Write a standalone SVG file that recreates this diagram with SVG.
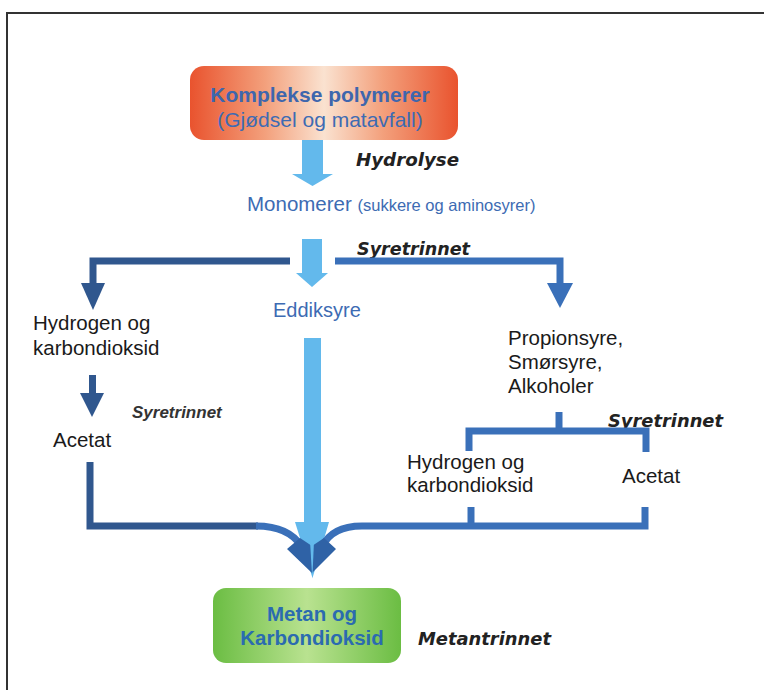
<svg xmlns="http://www.w3.org/2000/svg" width="764" height="690" viewBox="0 0 764 690">
<defs>
<linearGradient id="gOrange" x1="0" y1="0" x2="1" y2="0">
<stop offset="0" stop-color="#e9532e"/>
<stop offset="0.28" stop-color="#f3a07c"/>
<stop offset="0.5" stop-color="#fae2d0"/>
<stop offset="0.72" stop-color="#f3a07c"/>
<stop offset="1" stop-color="#e9532e"/>
</linearGradient>
<linearGradient id="gGreen" x1="0" y1="0" x2="1" y2="0">
<stop offset="0" stop-color="#6bbd43"/>
<stop offset="0.5" stop-color="#b9e290"/>
<stop offset="1" stop-color="#6bbd43"/>
</linearGradient>
<style>
.body{font-family:"Liberation Sans",Arial,sans-serif;font-size:20.5px;fill:#1a1a1a}
.blue{font-family:"Liberation Sans",Arial,sans-serif;fill:#3d6bb3}
.boxt{font-family:"Liberation Sans",Arial,sans-serif;font-weight:bold;fill:#3e66ad}
.green{fill:#2b6bb0}
.stage{font-family:"DejaVu Sans",Verdana,sans-serif;font-weight:bold;font-style:italic;font-size:17.5px;fill:#222}
.navy{fill:none;stroke:#30578e;stroke-width:7}
.mid{fill:none;stroke:#3a70b9;stroke-width:7}
.light{fill:#63b9ec}
</style>
</defs>
<rect width="764" height="690" fill="#ffffff"/>
<path d="M7,690 V13 H764" fill="none" stroke="#333" stroke-width="2"/>

<g id="node-polymerer">
<rect x="190" y="66" width="268" height="74" rx="14" fill="url(#gOrange)"/>
<text class="boxt" x="320" y="102" text-anchor="middle" font-size="21">Komplekse polymerer</text>
<text class="blue" x="320" y="127" text-anchor="middle" font-size="21">(Gjødsel og matavfall)</text>
</g>

<g id="node-monomerer">
<text class="blue" x="247" y="211" font-size="20.5">Monomerer <tspan font-size="16.5">(sukkere og aminosyrer)</tspan></text>
</g>

<g id="node-eddiksyre">
<text class="blue" x="273" y="317" font-size="20">Eddiksyre</text>
</g>

<g id="node-hydrogen-left">
<text class="body" x="33" y="330">Hydrogen og</text>
<text class="body" x="33" y="355">karbondioksid</text>
</g>

<g id="node-acetat-left">
<text class="body" x="53" y="447">Acetat</text>
</g>

<g id="node-propionsyre">
<text class="body" x="508" y="345">Propionsyre,</text>
<text class="body" x="508" y="369">Smørsyre,</text>
<text class="body" x="508" y="393">Alkoholer</text>
</g>

<g id="node-hydrogen-right">
<text class="body" x="407" y="469">Hydrogen og</text>
<text class="body" x="407" y="492">karbondioksid</text>
</g>

<g id="node-acetat-right">
<text class="body" x="622" y="483">Acetat</text>
</g>

<g id="node-metan">
<rect x="213" y="588" width="188" height="75" rx="13" fill="url(#gGreen)"/>
<text class="boxt green" x="312" y="621" text-anchor="middle" font-size="20.5">Metan og</text>
<text class="boxt green" x="312" y="645" text-anchor="middle" font-size="20.5">Karbondioksid</text>
</g>

<g id="labels">
<text class="stage" x="356" y="166" textLength="103" lengthAdjust="spacingAndGlyphs">Hydrolyse</text>
<text class="stage" x="357" y="255" textLength="113" lengthAdjust="spacingAndGlyphs">Syretrinnet</text>
<text font-family="'Liberation Sans',Arial,sans-serif" font-weight="bold" font-style="italic" font-size="17" fill="#333" x="132" y="418">Syretrinnet</text>
<text class="stage" x="608" y="427" textLength="115" lengthAdjust="spacingAndGlyphs">Syretrinnet</text>
<text class="stage" x="418" y="645" textLength="133" lengthAdjust="spacingAndGlyphs">Metantrinnet</text>
</g>

<g id="connectors">
<path class="light" d="M302,140 H323 V174 H333 L312.5,186 L292,174 H302 Z"/>
<path class="light" d="M302,239 H322 V273 H328 L312,287 L296,273 H302 Z"/>
<path class="light" d="M304,338 H321 V522 H329 L312.5,578 L295,522 H304 Z"/>

<path class="navy" d="M290,261 H93 V284"/>
<polygon points="81,283 105,283 93,310" fill="#30578e"/>
<path class="navy" d="M92.5,375 V394"/>
<polygon points="80,393 104,393 92,417" fill="#30578e"/>

<path class="mid" d="M335,261 H560 V284"/>
<polygon points="547,283 573,283 560,308" fill="#3a70b9"/>
<path class="mid" d="M559,412 V431"/>
<path class="mid" d="M469,451 V431 H646 V452"/>

<path class="navy" d="M90,462 V526 H258"/>
<path class="mid" d="M256,526 C280,526 294,534 302,547"/>
<path class="mid" d="M471,507 V526"/>
<path class="mid" d="M645,507 V526 H362 C340,526 328,534 322,547"/>
<polygon points="287,549 300,538 312,546 324,538 336,549 312,573" fill="#2f62a6"/>
<polygon points="310,541 314,541 312.3,579" fill="#63b9ec"/>
</g>
</svg>
